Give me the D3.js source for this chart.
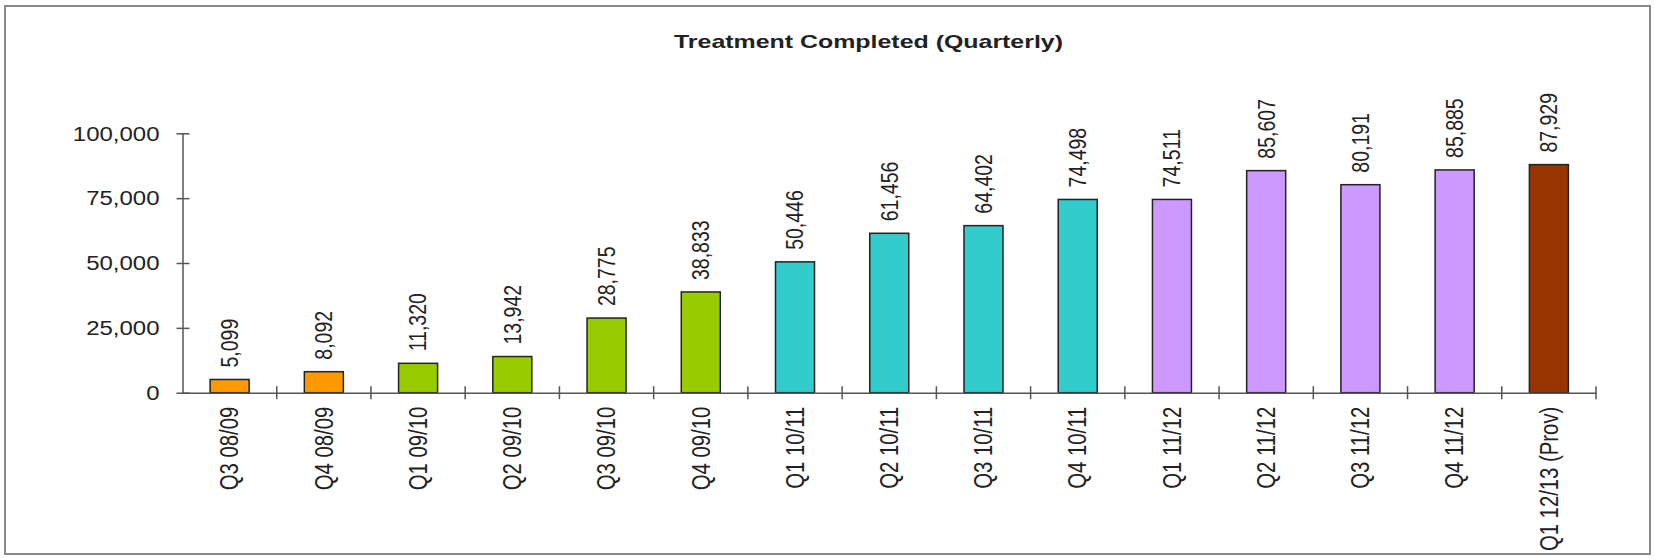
<!DOCTYPE html>
<html>
<head>
<meta charset="utf-8">
<script src="https://cdn.jsdelivr.net/npm/d3@7"></script>
<style>
  html, body { margin: 0; padding: 0; background: #fff; }
  svg { display: block; }
  text { font-family: "Liberation Sans", Arial, sans-serif; fill: #222; }
</style>
</head>
<body>
<div id="chart"></div>
<script>
// ---- data ----
const title = "Treatment Completed (Quarterly)";
const categories = ["Q3 08/09", "Q4 08/09", "Q1 09/10", "Q2 09/10", "Q3 09/10", "Q4 09/10",
  "Q1 10/11", "Q2 10/11", "Q3 10/11", "Q4 10/11", "Q1 11/12", "Q2 11/12", "Q3 11/12", "Q4 11/12",
  "Q1 12/13 (Prov)"];
const values = [5099, 8092, 11320, 13942, 28775, 38833, 50446, 61456, 64402, 74498,
  74511, 85607, 80191, 85885, 87929];
const yTicks = [0, 25000, 50000, 75000, 100000];
const years = ["08/09", "09/10", "10/11", "11/12", "12/13"];
const yearColors = ["#FF9900", "#99CC00", "#33CCCC", "#CC99FF", "#993300"];

// ---- layout ----
const W = 1655, H = 558;
const sx = 1.23; // horizontal stretch of the original picture
const x0 = 182.5, x1 = 1596, yBase = 392.7, yTop = 133.3;

const svg = d3.select("#chart").append("svg").attr("width", W).attr("height", H);
svg.append("rect").attr("x", 0).attr("y", 0).attr("width", W).attr("height", H).attr("fill", "#fff");
svg.append("rect").attr("x", 5).attr("y", 6).attr("width", 1645).attr("height", 548)
  .attr("fill", "none").attr("stroke", "#8a8a8a").attr("stroke-width", 2);

const x = d3.scaleBand().domain(categories).range([x0, x1]).paddingInner(0.586).paddingOuter(0.293);
const y = d3.scaleLinear().domain([0, 100000]).range([yBase, yTop]);
const color = d3.scaleOrdinal().domain(years).range(yearColors);
const yearOf = c => c.split(" ")[1];
const fmt = d3.format(",");

// title
svg.append("text").attr("x", 868.5).attr("y", 47.7).attr("text-anchor", "middle")
  .attr("font-weight", "bold").attr("font-size", 19)
  .attr("textLength", 389).attr("lengthAdjust", "spacingAndGlyphs").text(title);

// bars
svg.append("g").selectAll("rect").data(categories).join("rect")
  .attr("x", c => x(c)).attr("width", x.bandwidth())
  .attr("y", (c, i) => y(values[i])).attr("height", (c, i) => yBase - y(values[i]))
  .attr("fill", c => color(yearOf(c))).attr("stroke", "#222").attr("stroke-width", 1.5);

// value labels
svg.append("g").selectAll("text").data(categories).join("text")
  .attr("transform", (c, i) => `translate(${x(c) + x.bandwidth() / 2},${y(values[i]) - 12}) scale(${sx},1) rotate(-90)`)
  .attr("text-anchor", "start").attr("dy", "0.35em").attr("font-size", 19.5)
  .text((c, i) => fmt(values[i]));

// y axis
const yAxis = svg.append("g").attr("transform", `translate(${x0},0)`)
  .call(d3.axisLeft(y).tickValues(yTicks).tickFormat(fmt).tickSize(6).tickSizeOuter(0));
yAxis.select(".domain").attr("stroke", "#555").attr("stroke-width", 1.5);
yAxis.selectAll(".tick line").attr("x1", -6).attr("x2", 7).attr("stroke", "#555").attr("stroke-width", 1.5);
yAxis.selectAll(".tick text").attr("x", null).attr("dy", "0.35em")
  .attr("transform", `translate(-23,0) scale(${sx},1)`).attr("text-anchor", "end")
  .attr("font-size", 19.5).attr("fill", "#222");

// x axis
const xAxis = svg.append("g").attr("transform", `translate(0,${yBase})`)
  .call(d3.axisBottom(x).tickSize(0).tickSizeOuter(0));
xAxis.select(".domain").attr("stroke", "#555").attr("stroke-width", 1.5);
xAxis.selectAll(".tick text").attr("y", null).attr("dy", "0.35em")
  .attr("transform", `translate(0,14) scale(${sx},1) rotate(-90)`).attr("text-anchor", "end")
  .attr("font-size", 20.3).attr("fill", "#222");

// category boundary ticks
const bounds = categories.map(c => x(c) - x.step() * x.paddingInner() / 2).concat([x1]);
svg.append("g").selectAll("line").data(bounds.slice(1)).join("line")
  .attr("x1", d => d).attr("x2", d => d).attr("y1", yBase - 6.5).attr("y2", yBase + 6.5)
  .attr("stroke", "#555").attr("stroke-width", 1.5);
</script>
</body>
</html>
